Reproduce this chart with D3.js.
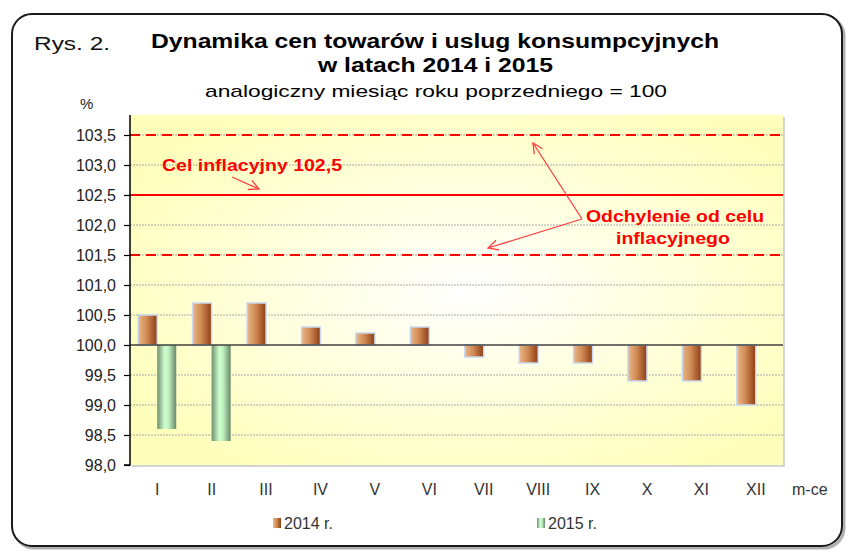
<!DOCTYPE html>
<html>
<head>
<meta charset="utf-8">
<script src="https://cdn.jsdelivr.net/npm/d3@7"></script>
<style>
  body { margin: 0; background: #fff; }
  text { font-family: "Liberation Sans", Arial, sans-serif; }
</style>
</head>
<body>
<script>
// dane
const miesiace = ["I", "II", "III", "IV", "V", "VI", "VII", "VIII", "IX", "X", "XI", "XII"];
const serie = ["2014 r.", "2015 r."];
const wart2014 = [100.5, 100.7, 100.7, 100.3, 100.2, 100.3, 99.8, 99.7, 99.7, 99.4, 99.4, 99.0];
const wart2015 = [98.6, 98.4];
const yTicks = [98.0, 98.5, 99.0, 99.5, 100.0, 100.5, 101.0, 101.5, 102.0, 102.5, 103.0, 103.5];
const celInflacyjny = 102.5;
const odchylenia = [101.5, 103.5];

const W = 847, H = 552;

const svg = d3.select("body").append("svg")
    .attr("width", W)
    .attr("height", H);

const defs = svg.append("defs");

// tło wykresu
const bg = defs.append("radialGradient").attr("id", "bgGrad")
    .attr("cx", "0.52").attr("cy", "0.5").attr("r", "0.62");
bg.append("stop").attr("offset", "0%").attr("stop-color", "#ffffff");
bg.append("stop").attr("offset", "100%").attr("stop-color", "#ffffbb");

// słupki 2014
const g14 = defs.append("linearGradient").attr("id", "g2014")
    .attr("x1", "0").attr("x2", "1").attr("y1", "0").attr("y2", "0");
g14.append("stop").attr("offset", "0%").attr("stop-color", "#eab88a");
g14.append("stop").attr("offset", "45%").attr("stop-color", "#d08a55");
g14.append("stop").attr("offset", "100%").attr("stop-color", "#8e3c12");

// słupki 2015
const g15 = defs.append("linearGradient").attr("id", "g2015")
    .attr("x1", "0").attr("x2", "1").attr("y1", "0").attr("y2", "0");
g15.append("stop").attr("offset", "0%").attr("stop-color", "#6f8f6f");
g15.append("stop").attr("offset", "40%").attr("stop-color", "#cfffcf");
g15.append("stop").attr("offset", "60%").attr("stop-color", "#bff2bf");
g15.append("stop").attr("offset", "100%").attr("stop-color", "#6a886a");

// strzałki
defs.append("marker").attr("id", "arrow")
    .attr("viewBox", "0 0 12 12")
    .attr("refX", 11).attr("refY", 6)
    .attr("markerWidth", 12).attr("markerHeight", 12)
    .attr("markerUnits", "userSpaceOnUse")
    .attr("orient", "auto")
    .append("path")
    .attr("d", "M1,1 L11,6 L1,11")
    .attr("fill", "none")
    .attr("stroke", "#ff4040")
    .attr("stroke-width", 1.3);

// ramka
svg.append("rect")
    .attr("x", 14).attr("y", 16)
    .attr("width", 830).attr("height", 532)
    .attr("rx", 20)
    .attr("fill", "none")
    .attr("stroke", "#b0b0b0")
    .attr("stroke-width", 3);
svg.append("rect")
    .attr("x", 12).attr("y", 14)
    .attr("width", 830).attr("height", 532)
    .attr("rx", 20)
    .attr("fill", "#fff")
    .attr("stroke", "#1a1a1a")
    .attr("stroke-width", 2);

// marginesy
const plot = { left: 130, right: 783, top: 115, bottom: 465 };

const x = d3.scaleBand()
    .domain(miesiace)
    .range([plot.left, plot.right]);

const xSub = d3.scaleBand()
    .domain(serie)
    .range([0, x.bandwidth()])
    .paddingOuter(0.43);

const y = d3.scaleLinear()
    .domain([98, 103.5])
    .range([plot.bottom, 135]);

// obszar wykresu
svg.append("rect")
    .attr("x", plot.left + 2).attr("y", plot.top + 2)
    .attr("width", plot.right - plot.left).attr("height", plot.bottom - plot.top)
    .attr("fill", "#d4d4d4");
svg.append("rect")
    .attr("x", plot.left).attr("y", plot.top)
    .attr("width", plot.right - plot.left).attr("height", plot.bottom - plot.top)
    .attr("fill", "url(#bgGrad)");

// linie siatki
svg.append("g")
    .selectAll("line")
    .data(yTicks.filter(d => d !== 98 && d !== 100))
    .enter()
    .append("line")
    .attr("x1", plot.left).attr("x2", plot.right)
    .attr("y1", d => y(d)).attr("y2", d => y(d))
    .attr("stroke", "#a8a8a8")
    .attr("stroke-width", 1)
    .attr("stroke-dasharray", "2,1");

// linie celu
svg.append("g")
    .selectAll("line")
    .data(odchylenia)
    .enter()
    .append("line")
    .attr("x1", plot.left).attr("x2", plot.right)
    .attr("y1", d => y(d)).attr("y2", d => y(d))
    .attr("stroke", "#ff0000")
    .attr("stroke-width", 2)
    .attr("stroke-dasharray", "10,6");

svg.append("line")
    .attr("x1", plot.left).attr("x2", plot.right)
    .attr("y1", y(celInflacyjny)).attr("y2", y(celInflacyjny))
    .attr("stroke", "#ff0000")
    .attr("stroke-width", 2);

// słupki
const dane = [];
miesiace.forEach((m, i) => {
    dane.push({ m: m, s: serie[0], v: wart2014[i] });
    if (wart2015[i] !== undefined) dane.push({ m: m, s: serie[1], v: wart2015[i] });
});

svg.append("g")
    .selectAll("rect")
    .data(dane)
    .enter()
    .append("rect")
    .attr("x", d => x(d.m) + xSub(d.s))
    .attr("y", d => Math.min(y(d.v), y(100)))
    .attr("width", xSub.bandwidth())
    .attr("height", d => Math.abs(y(d.v) - y(100)))
    .attr("fill", d => d.s === serie[0] ? "url(#g2014)" : "url(#g2015)")
    .attr("stroke", d => d.s === serie[0] ? "#c9d9f0" : "none")
    .attr("stroke-width", 1.5);

// linia 100
svg.append("line")
    .attr("x1", plot.left).attr("x2", plot.right)
    .attr("y1", y(100)).attr("y2", y(100))
    .attr("stroke", "#404040")
    .attr("stroke-width", 1.3);

// oś Y
const axisY = svg.append("g")
    .attr("transform", "translate(" + plot.left + ",0)")
    .call(d3.axisLeft(y)
        .tickValues(yTicks)
        .tickSize(6)
        .tickFormat(d => d3.format(".1f")(d).replace(".", ",")));
axisY.select(".domain")
    .attr("d", "M-6," + plot.bottom + "H0V" + plot.top)
    .attr("stroke", "#000")
    .attr("stroke-width", 1.5);
axisY.selectAll(".tick line").attr("stroke", "#000").attr("stroke-width", 1.2);
axisY.selectAll("text")
    .attr("x", -14)
    .style("font-size", "16px")
    .style("font-family", "Liberation Sans, Arial, sans-serif")
    .attr("fill", "#222");

// oś X (etykiety)
svg.append("g")
    .attr("transform", "translate(0," + 495 + ")")
    .call(d3.axisBottom(x).tickSize(0))
    .call(g => g.select(".domain").remove())
    .selectAll("text")
    .attr("y", 0)
    .attr("dy", 0)
    .style("font-size", "16px")
    .style("font-family", "Liberation Sans Narrow, Liberation Sans, Arial, sans-serif")
    .attr("fill", "#333");

svg.append("text")
    .text("m-ce")
    .attr("x", 792).attr("y", 495)
    .style("font-size", "16px")
    .style("font-family", "Liberation Sans Narrow, Liberation Sans, Arial, sans-serif")
    .attr("fill", "#333");

// tytuły
svg.append("text")
    .text("Rys. 2.")
    .attr("x", 34).attr("y", 50)
    .attr("textLength", 76).attr("lengthAdjust", "spacingAndGlyphs")
    .style("font-size", "18px")
    .attr("fill", "#111");

svg.append("text")
    .text("Dynamika cen towarów i uslug konsumpcyjnych")
    .attr("x", 151).attr("y", 48)
    .attr("textLength", 568).attr("lengthAdjust", "spacingAndGlyphs")
    .style("font-size", "20px")
    .style("font-weight", "bold")
    .attr("fill", "#000");

svg.append("text")
    .text("w latach 2014 i 2015")
    .attr("x", 318).attr("y", 72)
    .attr("textLength", 235).attr("lengthAdjust", "spacingAndGlyphs")
    .style("font-size", "20px")
    .style("font-weight", "bold")
    .attr("fill", "#000");

svg.append("text")
    .text("analogiczny miesiąc roku poprzedniego  = 100")
    .attr("x", 205).attr("y", 97)
    .attr("textLength", 462).attr("lengthAdjust", "spacingAndGlyphs")
    .style("font-size", "17px")
    .attr("fill", "#000");

svg.append("text")
    .text("%")
    .attr("x", 80).attr("y", 109)
    .style("font-size", "15px")
    .attr("fill", "#222");

// adnotacje
svg.append("text")
    .text("Cel inflacyjny 102,5")
    .attr("x", 162).attr("y", 171)
    .attr("textLength", 180).attr("lengthAdjust", "spacingAndGlyphs")
    .style("font-size", "16px")
    .style("font-weight", "bold")
    .attr("fill", "#ff0000");

svg.append("line")
    .attr("x1", 232).attr("y1", 177)
    .attr("x2", 259).attr("y2", 189)
    .attr("stroke", "#ff4040")
    .attr("stroke-width", 1.3)
    .attr("marker-end", "url(#arrow)");

svg.append("text")
    .text("Odchylenie od celu")
    .attr("x", 586).attr("y", 222)
    .attr("textLength", 178).attr("lengthAdjust", "spacingAndGlyphs")
    .style("font-size", "16px")
    .style("font-weight", "bold")
    .attr("fill", "#ff0000");

svg.append("text")
    .text("inflacyjnego")
    .attr("x", 616).attr("y", 244)
    .attr("textLength", 114).attr("lengthAdjust", "spacingAndGlyphs")
    .style("font-size", "16px")
    .style("font-weight", "bold")
    .attr("fill", "#ff0000");

svg.append("line")
    .attr("x1", 582).attr("y1", 219)
    .attr("x2", 533).attr("y2", 143)
    .attr("stroke", "#ff4040")
    .attr("stroke-width", 1.3)
    .attr("marker-end", "url(#arrow)");

svg.append("line")
    .attr("x1", 582).attr("y1", 219)
    .attr("x2", 488).attr("y2", 248)
    .attr("stroke", "#ff4040")
    .attr("stroke-width", 1.3)
    .attr("marker-end", "url(#arrow)");

// legenda
const legenda = svg.append("g")
    .selectAll("g")
    .data(serie)
    .enter()
    .append("g")
    .attr("transform", (d, i) => "translate(" + [273, 537][i] + ",518)");

legenda.append("rect")
    .attr("width", 8).attr("height", 10)
    .attr("fill", (d, i) => i === 0 ? "url(#g2014)" : "url(#g2015)");

legenda.append("text")
    .text(d => d)
    .attr("x", 11).attr("y", 11)
    .style("font-size", "16px")
    .style("font-family", "Liberation Sans Narrow, Liberation Sans, Arial, sans-serif")
    .attr("fill", "#333");
</script>
</body>
</html>
